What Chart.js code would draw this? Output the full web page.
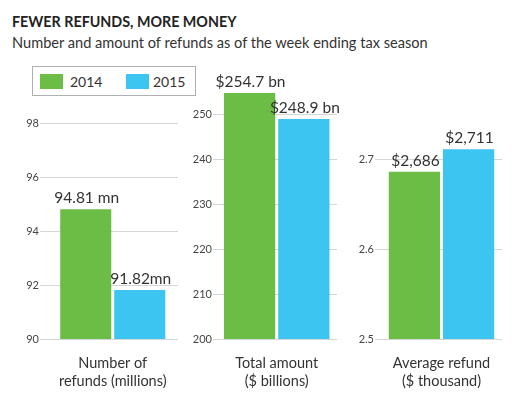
<!DOCTYPE html>
<html lang="en">
<head>
  <meta charset="UTF-8">
  <title>Fewer refunds, more money</title>
  <script src="https://cdn.jsdelivr.net/npm/chart.js"></script>
  <style>
    body {
      margin: 0;
      width: 524px;
      height: 395px;
      background: #fff;
      position: relative;
      overflow: hidden;
      font-family: Lato, "Open Sans", sans-serif;
      color: #333;
    }
    .title {
      position: absolute; left: 12px; top: 13px;
      font-size: 14.3px; font-weight: bold; color: #222;
    }
    .subtitle {
      position: absolute; left: 12px; top: 34px;
      font-size: 14.6px; color: #333;
    }
    .legend {
      position: absolute; left: 32px; top: 66px;
      width: 162px; height: 28px;
      border: 1px solid #b0b0b0;
      background: #fff;
      z-index: 2;
      font-size: 14px;
    }
    .legend span { position: absolute; top: 6px; }
    .legend i { position: absolute; top: 7px; width: 23px; height: 15px; }
    canvas { position: absolute; top: 60px; }
  </style>
</head>
<body>
  <div class="title">FEWER REFUNDS, MORE MONEY</div>
  <div class="subtitle">Number and amount of refunds as of the week ending tax season</div>
  <div class="legend" id="legend"></div>
  <canvas id="c1" width="180" height="335" style="left:0px"></canvas>
  <canvas id="c2" width="160" height="335" style="left:180px"></canvas>
  <canvas id="c3" width="184" height="335" style="left:340px"></canvas>
  <script>
    // series
    const years = ['2014', '2015'];
    const colors = ['#6cbd45', '#3cc5f1'];

    const refundCount = [94.81, 91.82];
    const refundCountLabels = ['94.81 mn', '91.82mn'];

    const totalAmount = [254.7, 248.9];
    const totalAmountLabels = ['$254.7 bn', '$248.9 bn'];

    const avgRefund = [2.686, 2.711];
    const avgRefundLabels = ['$2,686', '$2,711'];

    // legend
    const legend = document.getElementById('legend');
    legend.innerHTML =
      '<i style="left:7px;background:' + colors[0] + '"></i><span style="left:37px">' + years[0] + '</span>' +
      '<i style="left:93px;background:' + colors[1] + '"></i><span style="left:120px">' + years[1] + '</span>';

    // value labels above bars
    const valueLabels = {
      id: 'valueLabels',
      afterDatasetsDraw(chart, args, opts) {
        const ctx = chart.ctx;
        ctx.save();
        ctx.font = '15.5px Lato, sans-serif';
        ctx.fillStyle = '#333';
        ctx.textAlign = 'center';
        ctx.textBaseline = 'middle';
        chart.data.datasets.forEach((ds, i) => {
          const bar = chart.getDatasetMeta(i).data[0];
          ctx.fillText(opts.labels[i], bar.x + 1, bar.y - 11);
        });
        ctx.restore();
      }
    };

    function makeChart(id, category, values, labels, p) {
      const stepOk = v => Math.abs(v / p.step - Math.round(v / p.step)) < 1e-6;
      new Chart(document.getElementById(id), {
        type: 'bar',
        data: {
          labels: [category],
          datasets: years.map((y, i) => ({
            label: y,
            data: [values[i]],
            backgroundColor: colors[i],
            barPercentage: 0.945,
            categoryPercentage: p.cat
          }))
        },
        options: {
          responsive: false,
          devicePixelRatio: 1,
          animation: false,
          layout: { padding: { top: 28, right: p.right, left: 0, bottom: 0 } },
          plugins: {
            legend: { display: false },
            tooltip: { enabled: false },
            valueLabels: { labels: labels }
          },
          scales: {
            x: {
              grid: { display: false },
              border: { display: false },
              ticks: {
                color: '#333',
                padding: 8,
                font: { family: 'Lato', size: 14.5 }
              },
              afterFit: s => { s.height = 56; }
            },
            y: {
              min: p.min,
              max: p.max,
              border: { display: false },
              grid: { color: '#d6d6d6', tickLength: p.tick, drawTicks: true },
              ticks: {
                stepSize: p.step,
                padding: 1,
                color: '#444',
                font: { family: 'Lato', size: 11 },
                callback: v => v.toFixed(p.dec)
              },
              afterBuildTicks: s => { s.ticks = s.ticks.filter(t => stepOk(t.value - p.min)); },
              afterFit: s => { s.width = p.width; }
            }
          }
        },
        plugins: [valueLabels]
      });
    }

    makeChart('c1', ['Number of', 'refunds (millions)'], refundCount, refundCountLabels,
      { min: 90, max: 99.3, step: 2, dec: 0, width: 47.5, tick: 7.5, right: 2, cat: 0.828 });
    makeChart('c2', ['Total amount', '($ billions)'], totalAmount, totalAmountLabels,
      { min: 200, max: 255.8, step: 10, dec: 0, width: 36.4, tick: 3.4, right: 3, cat: 0.9 });
    makeChart('c3', ['Average refund', '($ thousand)'], avgRefund, avgRefundLabels,
      { min: 2.5, max: 2.779, step: 0.1, dec: 1, width: 41, tick: 6, right: 22, cat: 0.896 });
  </script>
</body>
</html>
